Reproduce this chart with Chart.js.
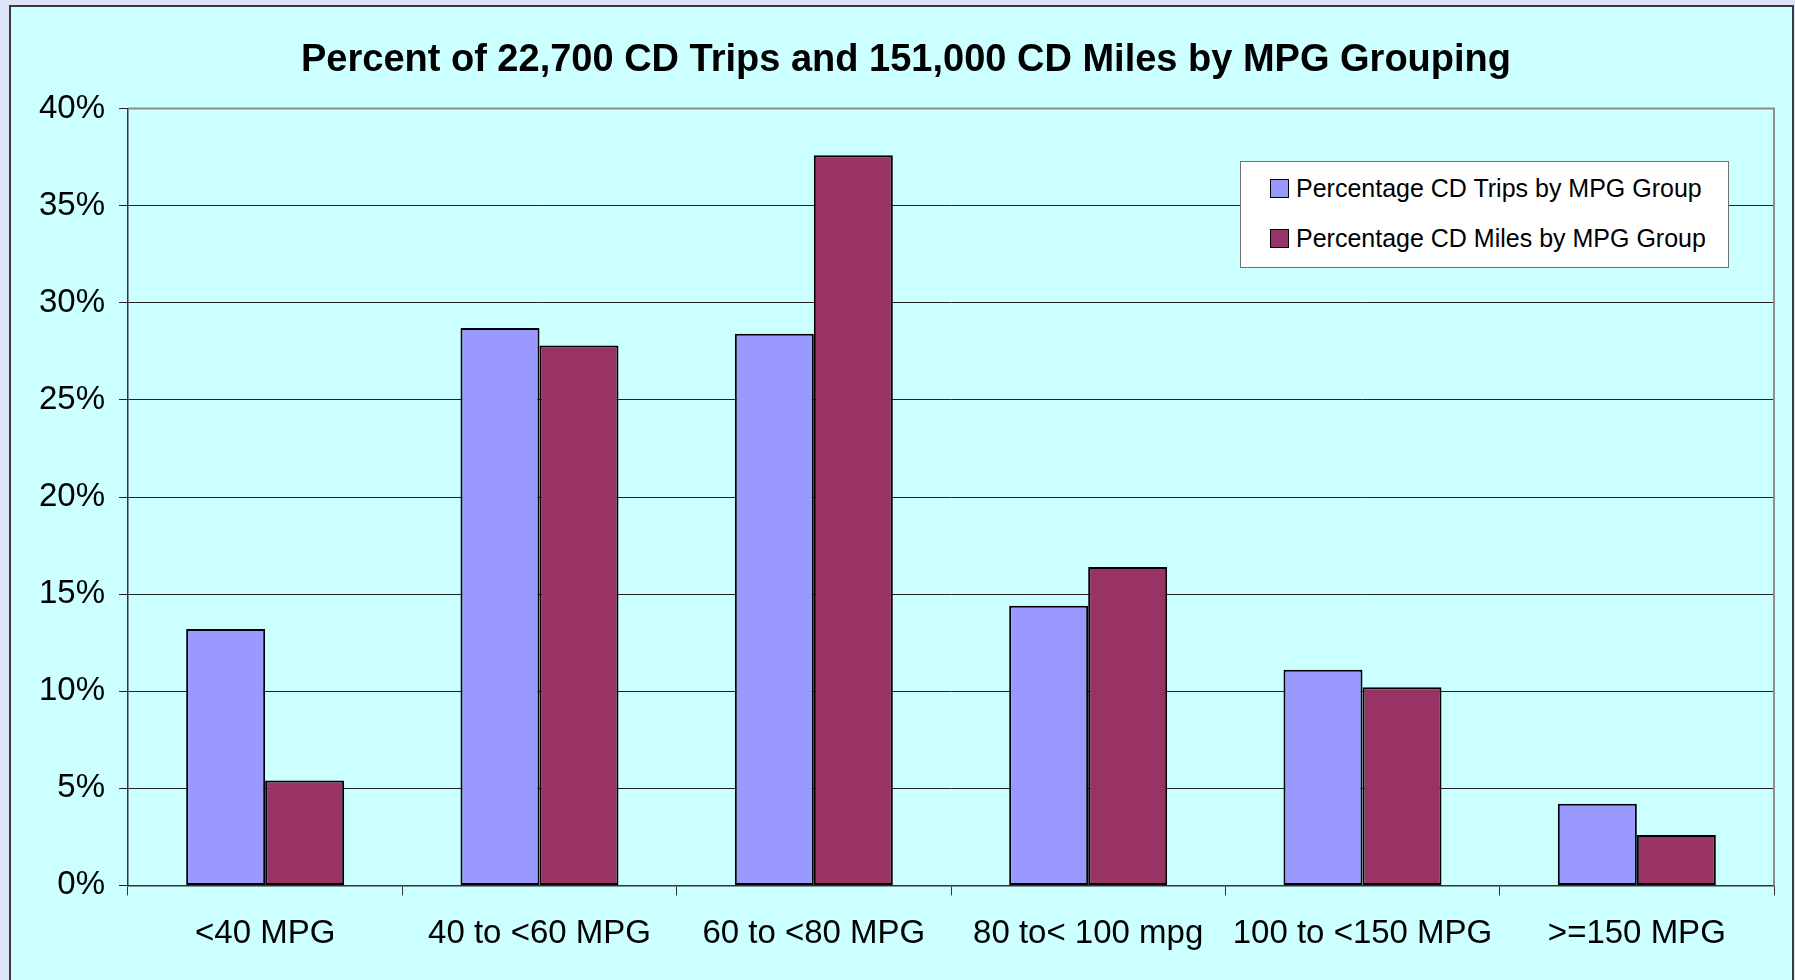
<!DOCTYPE html>
<html>
<head>
<meta charset="utf-8">
<script src="https://cdn.jsdelivr.net/npm/chart.js@4.4.1/dist/chart.umd.min.js"></script>
<style>
  html, body { margin: 0; padding: 0; background: #dce4f8; }
  #wrap { position: relative; width: 1795px; height: 980px; overflow: hidden; }
  #panel { position: absolute; left: 9px; top: 5px; width: 1781px; height: 980px;
           background: #ccffff; border: 2px solid #3a3a3a; border-bottom: none; }
  #myChart { position: absolute; left: 0; top: 0; }
  #legend { position: absolute; left: 1240px; top: 161px; width: 487px; height: 105px;
            background: #fff; border: 1px solid #707070; font-family: "Liberation Sans", Arial, sans-serif;
            font-size: 25px; color: #000; }
  .row { position: absolute; left: 29px; height: 30px; line-height: 30px; white-space: nowrap; }
  .sw { display: inline-block; width: 17px; height: 17px; border: 1.5px solid #000;
        vertical-align: middle; margin-right: 7px; position: relative; top: -2px; }
</style>
</head>
<body>
<div id="wrap">
  <div id="panel"></div>
  <canvas id="myChart" width="1795" height="980"></canvas>
  <div id="legend"></div>
</div>
<script>
const categories = ["<40 MPG", "40 to <60 MPG", "60 to <80 MPG", "80 to< 100 mpg", "100 to <150 MPG", ">=150 MPG"];
const tripsPct = [13.2, 28.7, 28.4, 14.4, 11.1, 4.2];
const milesPct = [5.4, 27.8, 37.6, 16.4, 10.2, 2.6];
const seriesNames = ["Percentage CD Trips by MPG Group", "Percentage CD Miles by MPG Group"];
const seriesColors = ["#9999ff", "#993366"];
const titleText = "Percent of 22,700 CD Trips and 151,000 CD Miles by MPG Grouping";

const fontFamily = "'Liberation Sans', Arial, sans-serif";

// grey frame on top and right of the plot area, like the old excel charts
const plotFrame = {
    id: 'plotFrame',
    beforeDatasetsDraw(chart) {
        const a = chart.chartArea;
        const ctx = chart.ctx;
        ctx.save();
        ctx.strokeStyle = '#8c8c8c';
        ctx.lineWidth = 2;
        ctx.beginPath();
        ctx.moveTo(a.left, a.top);
        ctx.lineTo(a.right, a.top);
        ctx.lineTo(a.right, a.bottom);
        ctx.stroke();
        ctx.restore();
    }
};

let usedChart;
function chartDisplay() {
    const ctx = document.getElementById('myChart');
    usedChart = new Chart(ctx, {
        type: 'bar',
        data: {
            labels: categories,
            datasets: [{
                label: seriesNames[0],
                data: tripsPct,
                backgroundColor: seriesColors[0],
                borderColor: '#000',
                borderWidth: 2,
                borderSkipped: false
            },
            {
                label: seriesNames[1],
                data: milesPct,
                backgroundColor: seriesColors[1],
                borderColor: '#000',
                borderWidth: 2,
                borderSkipped: false
            }]
        },
        options: {
            responsive: false,
            animation: false,
            layout: { padding: { left: 38, right: 21, top: 0, bottom: 7 } },
            datasets: { bar: { categoryPercentage: 0.576, barPercentage: 1 } },
            plugins: {
                legend: { display: false },
                tooltip: { enabled: false },
                title: {
                    display: true,
                    text: titleText,
                    color: '#000',
                    font: { family: fontFamily, size: 38, weight: 'bold' },
                    padding: { top: 38, bottom: 25 }
                }
            },
            scales: {
                x: {
                    grid: { display: true, drawOnChartArea: false, drawTicks: true, tickLength: 10, color: '#333' },
                    border: { color: '#333', width: 1.5 },
                    ticks: { color: '#000', font: { family: fontFamily, size: 33 }, padding: 19, maxRotation: 0, autoSkip: false }
                },
                y: {
                    min: 0,
                    max: 40,
                    grid: { color: '#222', lineWidth: 1, tickLength: 9 },
                    border: { color: '#333', width: 1.5 },
                    ticks: {
                        stepSize: 5,
                        color: '#000',
                        padding: 14,
                        font: { family: fontFamily, size: 33 },
                        callback: v => v + '%'
                    },
                    afterFit(scale) { scale.width = 90; }
                }
            }
        },
        plugins: [plotFrame]
    });
}

function legendDisplay() {
    const box = document.getElementById('legend');
    seriesNames.forEach((name, i) => {
        const row = document.createElement('div');
        row.className = 'row';
        row.style.top = (11 + i * 50) + 'px';
        row.innerHTML = '<span class="sw" style="background:' + seriesColors[i] + '"></span>' + name;
        box.appendChild(row);
    });
}

chartDisplay();
legendDisplay();
</script>
</body>
</html>
